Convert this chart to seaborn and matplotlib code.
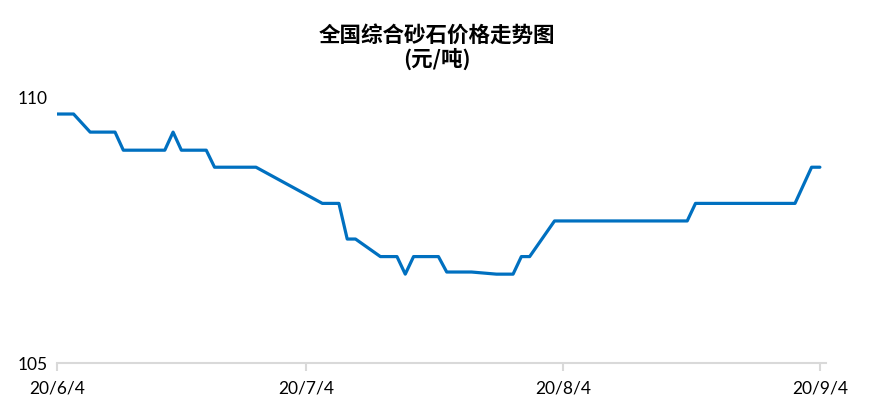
import matplotlib
matplotlib.use("Agg")
import matplotlib.pyplot as plt
import seaborn as sns
import pandas as pd

dates = ["2020-06-04", "2020-06-06", "2020-06-08", "2020-06-11", "2020-06-12",
         "2020-06-17", "2020-06-18", "2020-06-19", "2020-06-22", "2020-06-23",
         "2020-06-28", "2020-07-06", "2020-07-08", "2020-07-09", "2020-07-10",
         "2020-07-13", "2020-07-15", "2020-07-16", "2020-07-17", "2020-07-20",
         "2020-07-21", "2020-07-24", "2020-07-27", "2020-07-29", "2020-07-30",
         "2020-07-31", "2020-08-03", "2020-08-19", "2020-08-20", "2020-09-01",
         "2020-09-03", "2020-09-04"]
prices = [109.68, 109.68, 109.34, 109.34, 109.00,
          109.00, 109.34, 109.00, 109.00, 108.68,
          108.68, 108.00, 108.00, 107.33, 107.33,
          107.00, 107.00, 106.67, 107.00, 107.00,
          106.71, 106.71, 106.67, 106.67, 107.00,
          107.00, 107.67, 107.67, 108.00, 108.00,
          108.68, 108.68]
xtick_dates = ["2020-06-04", "2020-07-04", "2020-08-04", "2020-09-04"]
xtick_labels = ["20/6/4", "20/7/4", "20/8/4", "20/9/4"]
ytick_values = [105, 110]
title_text = "全国综合砂石价格走势图\n(元/吨)"

df = pd.DataFrame({"date": pd.to_datetime(dates), "price": prices})

sns.set_theme(style="white")
plt.rcParams["font.family"] = ["Lato", "DejaVu Sans"]

fig = plt.figure(figsize=(8.74, 4.14), dpi=100)
ax = fig.add_axes([0.0652, 0.1208, 0.88, 0.6425])

sns.lineplot(data=df, x="date", y="price", ax=ax, color="#0070C0",
             linewidth=2.3, legend=False)

xt = pd.to_datetime(xtick_dates)
ax.set_xlim(xt[0], xt[-1] + pd.Timedelta(hours=18))
ax.set_ylim(105, 110)
ax.set_xticks(xt)
ax.set_xticklabels(xtick_labels, fontsize=12.5, color="#000000")
ax.set_yticks(ytick_values)
ax.set_yticklabels([str(v) for v in ytick_values], fontsize=12.5, color="#000000")
ax.set_xlabel("")
ax.set_ylabel("")

for s in ["top", "right", "left"]:
    ax.spines[s].set_visible(False)
ax.spines["bottom"].set_color("#d9d9d9")
ax.spines["bottom"].set_linewidth(1.5)
ax.tick_params(axis="x", which="major", direction="out", length=6, width=1.5,
               color="#d9d9d9", pad=6, bottom=True)
ax.tick_params(axis="y", length=0, pad=7)
ax.grid(False)

fig.text(0.5, 0.886, title_text, ha="center", va="center", fontsize=15.5,
         fontweight="bold", color="#000000",
         family=["Noto Sans CJK SC", "DejaVu Sans"], linespacing=1.1)

fig.savefig("out.png", dpi=100, facecolor="white")
